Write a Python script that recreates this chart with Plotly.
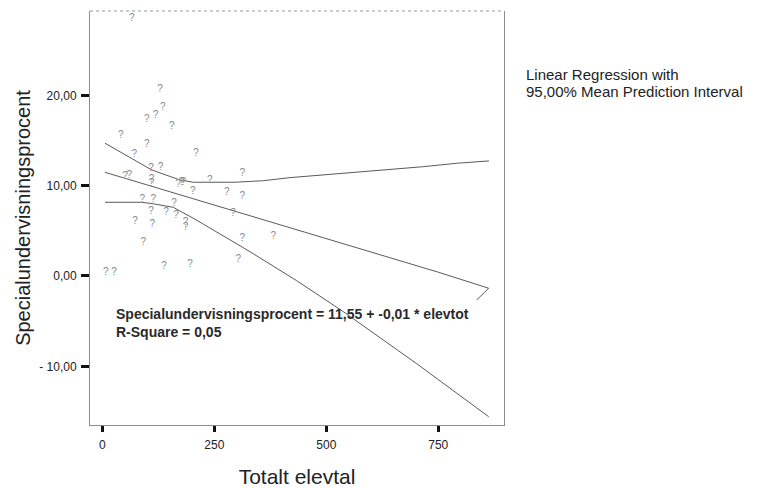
import plotly.graph_objects as go

# scatter points (Totalt elevtal, Specialundervisningsprocent)
elevtal = [65.6, 128.8, 134.8, 119, 99, 155, 41, 99, 71.4, 209,
           108.7, 130, 312.5, 50.7, 60.3, 110, 110, 169.6, 181, 177,
           240, 201.8, 277.6, 312.5, 89.3, 114, 160, 292, 108.7, 142,
           164.5, 73, 111.6, 186, 186, 312.5, 381.7, 91.5, 303.6, 137.7,
           195.8, 7.6, 26]
procent = [28.5, 20.6, 18.7, 17.8, 17.3, 16.5, 15.5, 14.6, 13.4, 13.6,
           11.9, 12.0, 11.4, 11.0, 11.1, 10.7, 10.2, 10.15, 10.4, 10.3,
           10.55, 9.3, 9.25, 8.8, 8.5, 8.5, 8.05, 6.9, 7.1, 7.0,
           6.7, 6.0, 5.75, 5.9, 5.4, 4.2, 4.4, 3.7, 1.85, 1.0,
           1.3, 0.37, 0.37]

# regression line and 95% mean prediction interval
fit_x = [6, 150, 300, 450, 600, 750, 862.5, 835.7]
fit_y = [11.48, 9.34, 7.11, 4.88, 2.65, 0.42, -1.36, -2.66]

upper_x = [6, 73, 110.3, 173.4, 203.1, 296.2, 359.4, 419, 493.3, 567.9, 642.2, 716.5, 791, 863.2]
upper_y = [14.70, 12.85, 11.74, 10.63, 10.38, 10.38, 10.55, 10.89, 11.18, 11.48, 11.82, 12.10, 12.48, 12.74]

lower_x = [6, 88, 113, 158.5, 207, 329.7, 433.9, 538, 701.8, 862.5]
lower_y = [8.16, 8.16, 8.0, 7.6, 6.28, 2.69, -0.52, -3.95, -9.71, -15.58]

x_ticks = [0, 250, 500, 750]
x_ticktext = ["0", "250", "500", "750"]
y_ticks = [20, 10, 0, -10]
y_ticktext = ["20,00", "10,00", "0,00", "- 10,00"]

FONT = "Liberation Sans, Arial, sans-serif"
LINE = "#5a5a5a"

fig = go.Figure()
for xs, ys in [(upper_x, upper_y), (fit_x, fit_y), (lower_x, lower_y)]:
    fig.add_trace(go.Scatter(x=xs, y=ys, mode="lines",
                             line=dict(color=LINE, width=1),
                             hoverinfo="skip", showlegend=False))
fig.add_trace(go.Scatter(x=elevtal, y=procent, mode="text", text=["?"] * len(elevtal),
                         textposition="middle center",
                         textfont=dict(family=FONT, size=10, color="#8a8a8a"),
                         showlegend=False))

fig.update_layout(
    width=757, height=488,
    margin=dict(l=90, r=253, t=11, b=63),
    paper_bgcolor="white", plot_bgcolor="white",
    font=dict(family=FONT, color="#222222"),
    xaxis=dict(range=[-27.5, 896.7], tickvals=x_ticks, ticktext=x_ticktext,
               automargin=False,
               showgrid=False, zeroline=False, showline=True, linecolor="#8c8c8c",
               linewidth=1, ticks="outside", ticklen=6, tickwidth=3, tickcolor="#111111",
               ticklabelstandoff=3,
               tickfont=dict(size=12, color="#222222"),
               title=dict(text="Totalt elevtal", font=dict(size=21, color="#222222"), standoff=18)),
    yaxis=dict(range=[-16.5, 29.34], tickvals=y_ticks, ticktext=y_ticktext,
               automargin=False,
               showgrid=False, zeroline=False, showline=True, mirror=True, linecolor="#8c8c8c",
               linewidth=1, ticks="outside", ticklen=8, tickwidth=3, tickcolor="#111111",
               ticklabelstandoff=2,
               tickfont=dict(size=12, color="#222222"),
               title=dict(text="Specialundervisningsprocent", font=dict(size=20, color="#222222"), standoff=3)),
)

# dotted top border
fig.add_shape(type="line", xref="paper", yref="paper", x0=0, x1=1, y0=1, y1=1,
              line=dict(color="#9a9a9a", width=1, dash="dot"))

fig.add_annotation(xref="paper", yref="paper", x=(114 - 90) / 414, y=(425 - 314) / 414,
                   xanchor="left", yanchor="middle", showarrow=False, align="left",
                   text="<b>Specialundervisningsprocent = 11,55 + -0,01 * elevtot</b>",
                   font=dict(size=14, color="#2a2a2a"))
fig.add_annotation(xref="paper", yref="paper", x=(114 - 90) / 414, y=(425 - 332) / 414,
                   xanchor="left", yanchor="middle", showarrow=False, align="left",
                   text="<b>R-Square = 0,05</b>",
                   font=dict(size=14, color="#2a2a2a"))
fig.add_annotation(xref="paper", yref="paper", x=(524 - 90) / 414, y=(425 - 74) / 414,
                   xanchor="left", yanchor="middle", showarrow=False, align="left",
                   text="Linear Regression with", font=dict(size=15, color="#222222"))
fig.add_annotation(xref="paper", yref="paper", x=(524 - 90) / 414, y=(425 - 92) / 414,
                   xanchor="left", yanchor="middle", showarrow=False, align="left",
                   text="95,00% Mean Prediction Interval", font=dict(size=15, color="#222222"))

fig.write_html("out.html", config={"displayModeBar": False},
               post_script="document.body.style.margin='0px';")
